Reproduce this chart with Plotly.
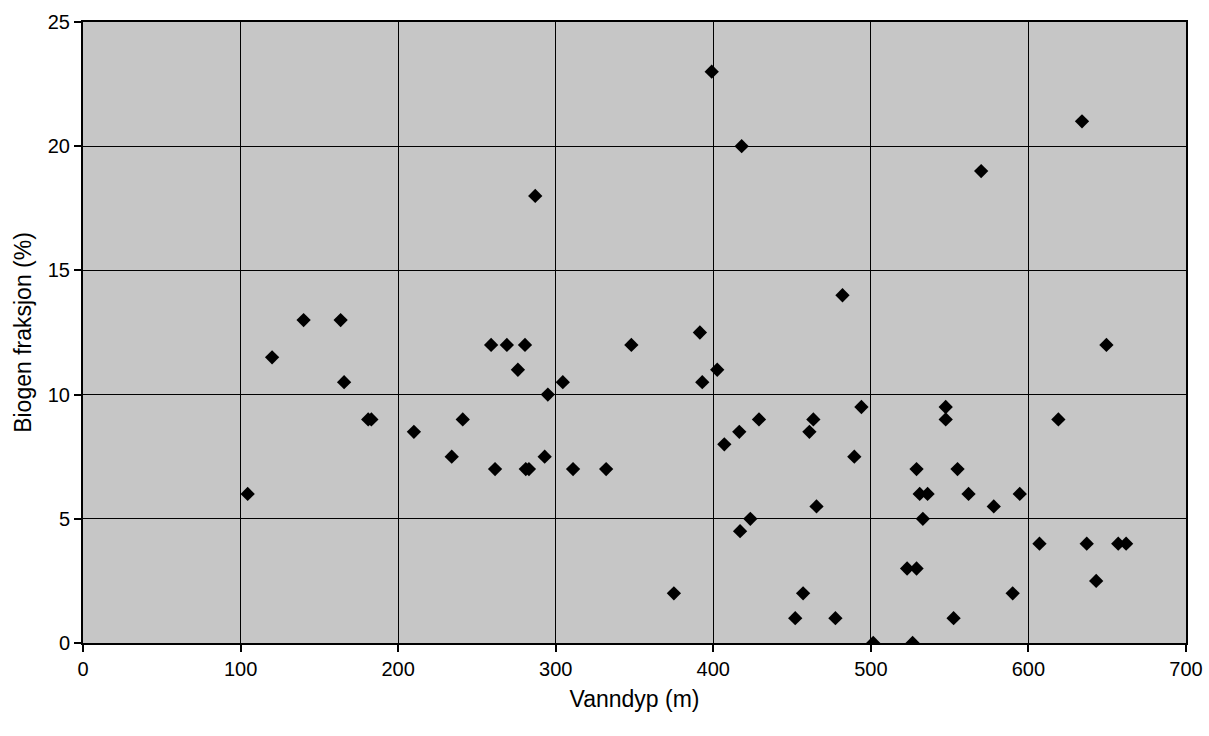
import plotly.graph_objects as go

depth_m = [104.5, 120, 140, 163.5, 165.7, 181, 183, 210, 234, 241,
           259, 261.5, 269, 276, 280.5, 281, 283, 287, 293, 295,
           304.5, 311, 332, 348, 375, 391.5, 393, 399, 402.5, 407,
           416.5, 417, 418, 423.5, 429, 452, 457, 461, 463.5, 465.5,
           477.5, 482, 489.5, 494, 501.5, 523, 526.5, 529, 529, 531,
           533, 536, 547.5, 547.5, 552.5, 555, 562, 570, 578, 590,
           594.5, 607, 619, 634, 637, 643, 649.5, 657, 662]
biogen_pct = [6, 11.5, 13, 13, 10.5, 9, 9, 8.5, 7.5, 9,
              12, 7, 12, 11, 12, 7, 7, 18, 7.5, 10,
              10.5, 7, 7, 12, 2, 12.5, 10.5, 23, 11, 8,
              8.5, 4.5, 20, 5, 9, 1, 2, 8.5, 9, 5.5,
              1, 14, 7.5, 9.5, 0, 3, 0, 3, 7, 6,
              5, 6, 9.5, 9, 1, 7, 6, 19, 5.5, 2,
              6, 4, 9, 21, 4, 2.5, 12, 4, 4]

x_ticks = [0, 100, 200, 300, 400, 500, 600, 700]
y_ticks = [0, 5, 10, 15, 20, 25]

fig = go.Figure()
fig.add_trace(go.Scatter(
    x=depth_m, y=biogen_pct, mode="markers",
    marker=dict(symbol="diamond", size=11, color="black"),
    showlegend=False,
))

font = dict(family="Liberation Sans, Arial, sans-serif", color="black")
fig.update_layout(
    width=1209, height=736,
    margin=dict(l=83, r=23, t=22, b=93),
    paper_bgcolor="white",
    plot_bgcolor="#c6c6c6",
    font=dict(size=20, **font),
)
fig.update_xaxes(
    range=[0, 700], tickvals=x_ticks, ticktext=[str(v) for v in x_ticks],
    showgrid=True, gridcolor="black", gridwidth=1.2,
    showline=True, linecolor="black", linewidth=2, mirror=True,
    ticks="outside", ticklen=7, tickcolor="black", tickwidth=1.5,
    zeroline=False, automargin=False,
    title=dict(text="Vanndyp (m)", font=dict(size=23), standoff=12),
    tickfont=dict(size=20),
)
fig.update_yaxes(
    range=[0, 25], tickvals=y_ticks, ticktext=[str(v) for v in y_ticks],
    showgrid=True, gridcolor="black", gridwidth=1.2,
    showline=True, linecolor="black", linewidth=2, mirror=True,
    ticks="outside", ticklen=7, tickcolor="black", tickwidth=1.5,
    zeroline=False, automargin=False,
    title=dict(text="Biogen fraksjon (%)", font=dict(size=23), standoff=10),
    tickfont=dict(size=20),
)
fig.write_html("out.html")
